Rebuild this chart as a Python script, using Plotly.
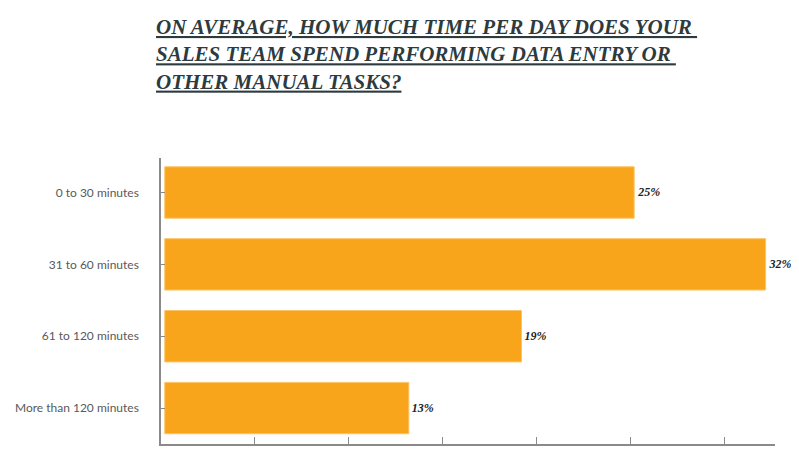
import plotly.graph_objects as go

categories = ["0 to 30 minutes", "31 to 60 minutes", "61 to 120 minutes", "More than 120 minutes"]
values = [25, 32, 19, 13]
title_lines = [
    "ON AVERAGE, HOW MUCH TIME PER DAY DOES YOUR ",
    "SALES TEAM SPEND PERFORMING DATA ENTRY OR ",
    "OTHER MANUAL TASKS?",
]

bar_color = "#F8A51B"
title_color = "#2D3A3E"
axis_color = "#8A8A8A"
serif = "Liberation Serif, Times New Roman, serif"

W, H = 791, 445
L, R, T, B = 153, 24, 150, 9
plot_w = W - L - R
plot_h = H - T - B

fig = go.Figure(
    go.Bar(
        x=values,
        y=categories,
        orientation="h",
        marker=dict(color=bar_color, line=dict(color="#FBC468", width=1)),
        texttemplate="<b><i>%{x}%</i></b>",
        textposition="outside",
        cliponaxis=False,
        textfont=dict(family=serif, size=12, color="#222222"),
        hoverinfo="skip",
    )
)

fig.add_annotation(
    text="<br>".join("<b><i><u>" + t + "</u></i></b>" for t in title_lines),
    xref="paper",
    yref="paper",
    x=(146 - L) / plot_w,
    y=1 + (T - 5) / plot_h,
    xanchor="left",
    yanchor="top",
    align="left",
    showarrow=False,
    font=dict(family=serif, size=21, color=title_color),
)

fig.update_layout(
    width=W,
    height=H,
    paper_bgcolor="white",
    plot_bgcolor="white",
    margin=dict(l=L, r=R, t=T, b=B),
    bargap=0.285,
    showlegend=False,
)

fig.update_xaxes(
    range=[-0.2, 32.5],
    tick0=-0.2,
    dtick=5,
    showticklabels=False,
    ticks="inside",
    ticklen=7,
    tickcolor=axis_color,
    tickwidth=1,
    showline=True,
    linecolor=axis_color,
    linewidth=1.5,
    showgrid=False,
    zeroline=False,
    automargin=False,
)

fig.update_yaxes(
    categoryorder="array",
    categoryarray=categories,
    range=[3.5, -0.48],
    ticks="inside",
    ticklen=4,
    tickcolor=axis_color,
    tickwidth=1,
    showline=True,
    linecolor=axis_color,
    linewidth=1.5,
    showgrid=False,
    zeroline=False,
    automargin=False,
    ticklabelstandoff=18,
    tickfont=dict(family="Lato", size=12, color="#595959"),
)

fig.write_html("out.html")
